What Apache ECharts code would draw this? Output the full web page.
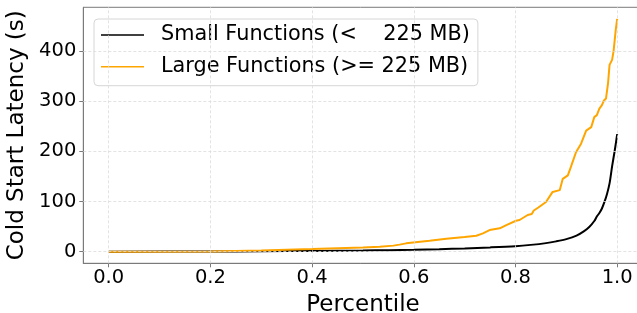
<!DOCTYPE html>
<html>
<head>
<meta charset="utf-8">
<script src="https://cdn.jsdelivr.net/npm/echarts@6/dist/echarts.min.js"></script>
<style>
  html, body { margin: 0; padding: 0; background: #fff; }
  #chart { width: 637px; height: 313px; }
</style>
</head>
<body>
<div id="chart"></div>
<script>
    // percentile (x) and cold start latency in seconds (y)
    var smallPct = [0, 0.2, 0.3, 0.4, 0.5, 0.55, 0.6, 0.65, 0.7, 0.75, 0.8, 0.83, 0.86, 0.88, 0.9, 0.92, 0.935, 0.945, 0.955, 0.96, 0.965, 0.97, 0.975, 0.98, 0.985, 0.99, 0.995, 1.0];
    var smallVal = [0, 0.3, 0.8, 1.5, 2.3, 3, 3.8, 5, 6.5, 8.5, 11, 13.5, 17, 20.5, 25, 32, 41, 49, 61, 70, 77, 86, 99, 115, 136, 170, 200, 234];

    var largePct = [0, 0.2, 0.3, 0.4, 0.45, 0.5, 0.533, 0.56, 0.572, 0.585, 0.631, 0.664, 0.7, 0.723, 0.736, 0.749, 0.769, 0.782, 0.801, 0.808, 0.824, 0.832, 0.836, 0.845, 0.86, 0.873, 0.887, 0.893, 0.903, 0.909, 0.919, 0.929, 0.939, 0.949, 0.955, 0.96, 0.965, 0.97, 0.974, 0.978, 0.982, 0.985, 0.99, 0.993, 0.997, 1.0];
    var largeVal = [0, 0.5, 2.5, 5.4, 7, 8.5, 10, 12, 14, 16.5, 21.8, 25.8, 29, 31.8, 36.5, 43, 46.5, 53, 61.6, 63, 73, 75, 82, 88, 99, 119, 122.5, 145, 152, 169, 198, 215, 241, 248, 268, 272, 285, 292, 301, 305, 335, 372, 382, 400, 440, 463.5];

    var xTicks = [0, 0.2, 0.4, 0.6, 0.8, 1.0];
    var yTicks = [0, 100, 200, 300, 400];

    var seriesNames = ['Small Functions (<    225 MB)', 'Large Functions (>= 225 MB)'];
    var seriesColors = ['#000000', '#FFA500'];

    function pairs(xs, ys) {
        var out = [];
        for (var i = 0; i < xs.length; i++) {
            out.push([xs[i], ys[i]]);
        }
        return out;
    }

    var font = 'DejaVu Sans';
    var axisColor = '#7a7a7a';

    // dashed grid lines at the tick values
    var gridLines = [];
    for (var i = 0; i < xTicks.length; i++) gridLines.push({xAxis: xTicks[i]});
    for (var j = 0; j < yTicks.length; j++) gridLines.push({yAxis: yTicks[j]});

    var myChart = echarts.init(document.getElementById('chart'), null, {renderer: 'canvas'});

    var option = {
        animation: false,
        backgroundColor: '#fff',
        textStyle: {fontFamily: font},
        grid: {
            left: 83.3,
            right: -5.6,
            top: 7.3,
            bottom: 49.7,
            show: true,
            borderColor: axisColor,
            borderWidth: 1,
            containLabel: false,
            outerBoundsMode: 'none'
        },
        legend: {
            orient: 'vertical',
            left: 94,
            top: 19,
            data: [
                {name: seriesNames[0], icon: 'rect', itemStyle: {color: seriesColors[0]}},
                {name: seriesNames[1], icon: 'rect', itemStyle: {color: seriesColors[1]}}
            ],
            itemWidth: 43,
            itemHeight: 1.6,
            itemGap: 9.7,
            padding: [5, 8, 8, 7],
            backgroundColor: 'rgba(255,255,255,0.85)',
            borderColor: '#d6d6d6',
            borderWidth: 1,
            borderRadius: 4,
            textStyle: {
                fontFamily: font,
                fontSize: 20.8,
                color: '#000',
                lineHeight: 22,
                padding: [0, 0, 0, 12]
            }
        },
        xAxis: {
            type: 'value',
            min: -0.05,
            max: 1.05,
            name: 'Percentile',
            nameLocation: 'middle',
            nameGap: 25,
            nameTextStyle: {fontFamily: font, fontSize: 23, color: '#000'},
            axisLine: {show: true, onZero: false, lineStyle: {color: axisColor, width: 1}},
            axisTick: {show: true, inside: false, length: 4, customValues: xTicks, lineStyle: {color: axisColor}},
            axisLabel: {
                customValues: xTicks,
                margin: 5,
                fontFamily: font,
                fontSize: 19.5,
                color: '#000',
                formatter: function (v) { return v.toFixed(1); }
            },
            splitLine: {show: false}
        },
        yAxis: {
            type: 'value',
            min: -23.2,
            max: 486.7,
            name: 'Cold Start Latency (s)',
            nameLocation: 'middle',
            nameGap: 45,
            nameTextStyle: {fontFamily: font, fontSize: 23, color: '#000'},
            axisLine: {show: true, onZero: false, lineStyle: {color: axisColor, width: 1}},
            axisTick: {show: true, inside: false, length: 4, customValues: yTicks, lineStyle: {color: axisColor}},
            axisLabel: {
                customValues: yTicks,
                margin: 7,
                fontFamily: font,
                fontSize: 19.5,
                color: '#000'
            },
            splitLine: {show: false}
        },
        series: [
            {
                name: 'grid',
                type: 'line',
                data: [],
                z: 1,
                silent: true,
                markLine: {
                    silent: true,
                    symbol: 'none',
                    label: {show: false},
                    lineStyle: {color: '#dcdcdc', width: 0.8, type: [3, 2]},
                    data: gridLines
                }
            },
            {
                name: seriesNames[0],
                type: 'line',
                data: pairs(smallPct, smallVal),
                showSymbol: false,
                symbol: 'none',
                smooth: 0.3,
                z: 3,
                color: seriesColors[0],
                lineStyle: {color: seriesColors[0], width: 2}
            },
            {
                name: seriesNames[1],
                type: 'line',
                data: pairs(largePct, largeVal),
                showSymbol: false,
                symbol: 'none',
                z: 4,
                color: seriesColors[1],
                lineStyle: {color: seriesColors[1], width: 2}
            }
        ]
    };
    myChart.setOption(option);
</script>
</body>
</html>
